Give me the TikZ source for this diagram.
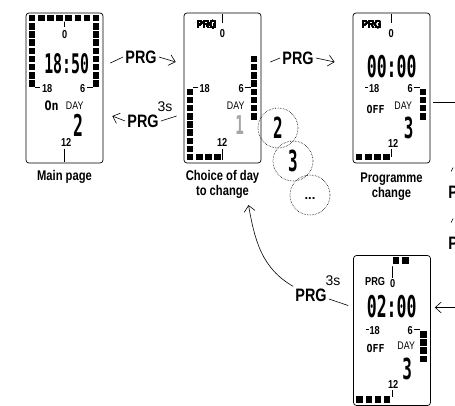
\documentclass[tikz,border=0pt]{standalone}
\usepackage{fontspec}
\setmainfont{Liberation Sans}
\newfontfamily\condfont{Liberation Sans}[FakeStretch=0.8]
\newfontfamily\lcdfont{DejaVu Sans Mono}[FakeStretch=0.55]
\newfontfamily\lcdword{DejaVu Sans Mono}[FakeStretch=0.9]
\usepackage{xcolor}
\usetikzlibrary{positioning, arrows.meta}

\definecolor{lcdgrey}{gray}{0.65}

% one square of the 24h ring, given by its centre
\newcommand{\lcdseg}[2]{\fill ({#1-3.25},{#2-3.25}) rectangle ++(6.5,6.5);}
\newcommand{\rowseg}[2]{\lcdseg{6.5+9.14*#1}{#2}}
\newcommand{\colseg}[2]{\lcdseg{#1}{-5.5-8.18*#2}}

\begin{document}
\begin{tikzpicture}[
        x=1pt, y=1pt, line width=0.6pt,
        >={Straight Barb[length=6pt,width=11pt]},
        screen/.style={draw, rounded corners=3pt, minimum width=77pt, minimum height=150pt, inner sep=0pt, line width=0.7pt},
        keyname/.style={font=\condfont\bfseries\fontsize{18}{18}\selectfont, inner sep=2pt},
        holdtime/.style={font=\fontsize{14}{14}\selectfont, inner sep=0pt},
        screenlbl/.style={font=\condfont\bfseries\fontsize{14}{15}\selectfont, align=center, inner sep=2pt},
        scrtxt/.style={font=\condfont\fontsize{11}{11}\selectfont, inner sep=0pt},
        scrnum/.style={font=\condfont\bfseries\fontsize{11.5}{11.5}\selectfont, inner sep=0pt},
        lcdnum/.style={font=\lcdfont\bfseries\fontsize{#1}{#1}\selectfont, inner sep=0pt},
        lcdtxt/.style={font=\lcdword\bfseries\fontsize{#1}{#1}\selectfont, inner sep=0pt},
        daybubble/.style={circle, draw, densely dotted, minimum size=40pt, inner sep=0pt},
        scaletick/.style={line width=1.1pt}
    ]

    \useasboundingbox (0,0) rectangle (455,-405);
    \clip (0,0) rectangle (455,-405);

    % screens
    \node[screen] (main) at (64.5,-88) {};
    \node[screen] (choice) at (222.5,-88) {};
    \node[screen] (prog) at (391.5,-88) {};
    \node[screen] (setday) at (392,-330.5) {};

    \node[screenlbl, below=5pt of main] (mainlbl) {Main page};
    \node[screenlbl, below=5pt of choice] (choicelbl) {Choice of day\\to change};
    \node[screenlbl, below=7pt of prog] (proglbl) {Programme\\change};

    % main page
    \begin{scope}[shift={(main.north west)}]
        \foreach \k in {0,...,7} \rowseg{\k}{-5.5}
        \foreach \j in {1,...,8} {\colseg{6.5}{\j} \colseg{70.5}{\j}}
        \draw[scaletick] (39,-9) -- (39,-14);
        \node[scrnum] (m0) at (39,-21.5) {0};
        \node[lcdnum=27] (mtime) at (41,-51) {18:50};
        \draw[scaletick] (9.75,-75) -- (14,-75);
        \node[scrnum] (m18) at (21.5,-76) {18};
        \node[scrnum] (m6) at (57,-76) {6};
        \draw[scaletick] (61,-75) -- (67.25,-75);
        \node[lcdtxt=13] (mon) at (26,-93) {On};
        \node[scrtxt] (mday) at (49,-93.5) {DAY};
        \node[lcdnum=30] (mdig) at (52.5,-113) {2};
        \node[scrnum] (m12) at (40.5,-129.5) {12};
        \draw[scaletick] (39,-136) -- (39,-149);
    \end{scope}

    % choice of day
    \begin{scope}[shift={(choice.north west)}]
        \foreach \j in {5,...,12} \colseg{70.5}{\j}
        \foreach \j in {9,...,16} \colseg{6.5}{\j}
        \foreach \k in {0,...,3} \rowseg{\k}{-144.5}
        \node[scrnum] (cprg) at (23,-12) {PRG};
        \draw[scaletick] (38.7,-1) -- (38.7,-10);
        \node[scrnum] (c0) at (38.7,-20.5) {0};
        \draw[scaletick] (9.75,-75) -- (14,-75);
        \node[scrnum] (c18) at (21,-75.5) {18};
        \node[scrnum] (c6) at (57.5,-75.5) {6};
        \draw[scaletick] (61,-75) -- (67.25,-75);
        \node[scrtxt] (cday) at (52,-93.5) {DAY};
        \node[lcdnum=26, text=lcdgrey] (cdig) at (56,-112) {1};
        \node[scrnum] (c12) at (38.5,-130) {12};
        \draw[scaletick] (38.7,-136.5) -- (38.7,-147);
    \end{scope}

    % programme change
    \begin{scope}[shift={(prog.north west)}]
        \foreach \j in {9,...,12} \colseg{70.5}{\j}
        \foreach \k in {0,...,3} \rowseg{\k}{-144.5}
        \node[scrnum] (pprg) at (19,-12) {PRG};
        \draw[scaletick] (38.5,-1) -- (38.5,-10);
        \node[scrnum] (p0) at (38.5,-20.5) {0};
        \node[lcdnum=30] (ptime) at (39,-54) {00:00};
        \draw[scaletick] (12.5,-75) -- (15.5,-75);
        \node[scrnum] (p18) at (21.5,-76) {18};
        \node[scrnum] (p6) at (57.5,-76) {6};
        \draw[scaletick] (61,-75) -- (67.25,-75);
        \node[lcdtxt=11] (poff) at (23,-97) {OFF};
        \node[scrtxt] (pday) at (50.5,-93.5) {DAY};
        \node[lcdnum=29] (pdig) at (56,-115) {3};
        \node[scrnum] (p12) at (40.5,-130.5) {12};
        \draw[scaletick] (38.5,-136) -- (38.5,-144);
    \end{scope}

    % set time of the day
    \begin{scope}[shift={(setday.north west)}]
        \foreach \k in {4,5} \rowseg{\k}{-5.5}
        \foreach \j in {9,...,12} \colseg{70.5}{\j}
        \foreach \k in {0,...,3} \rowseg{\k}{-144.5}
        \draw[scaletick] (39.5,-11.5) -- (39.5,-22.5);
        \node[scrnum] (s0) at (39.5,-28.5) {0};
        \node[scrnum] (sprg) at (22,-26) {PRG};
        \node[lcdnum=30] (stime) at (38.5,-51.5) {02:00};
        \draw[scaletick] (12.5,-74.5) -- (15.5,-74.5);
        \node[scrnum] (s18) at (21.5,-75) {18};
        \node[scrnum] (s6) at (57,-75) {6};
        \draw[scaletick] (61,-74.5) -- (67.25,-74.5);
        \node[lcdtxt=11] (soff) at (22.5,-93.5) {OFF};
        \node[scrtxt] (sday) at (53,-91) {DAY};
        \node[lcdnum=29] (sdig) at (54,-114) {3};
        \node[scrnum] (s12) at (40,-129) {12};
        \draw[scaletick] (39.5,-135) -- (39.5,-141.5);
    \end{scope}

    % days to pick
    \node[daybubble, lcdnum=29] (bub2) at (278,-128) {2};
    \node[daybubble, lcdnum=29] (bub3) at (293,-161) {3};
    \node[daybubble, font=\bfseries\fontsize{13}{13}\selectfont] (bubmore) at (310,-195) {\vphantom{0}...};

    % key presses
    \node[keyname] (prgA) at (141,-57) {PRG};
    \node[keyname] (prgB) at (143,-121) {PRG};
    \node[holdtime] (holdB) at (165,-107) {3s};
    \node[keyname] (prgC) at (298,-58) {PRG};
    \node[keyname] (prgE) at (311,-295) {PRG};
    \node[holdtime] (holdE) at (333,-281) {3s};
    \node[keyname, anchor=west] (pD) at (446,-192) {P};
    \node[keyname, anchor=west] (pF) at (446,-243) {P};

    \coordinate (edgeA) at (462,-102);
    \coordinate (edgeB) at (462,-307.5);

    \draw ([shift={(7,25)}]main.east) -- (prgA.west);
    \draw[->] (prgA.east) -- ([shift={(-8,26)}]choice.west);

    \draw ([shift={(-7,-28)}]choice.west) -- (prgB.east);
    \draw[->] (prgB.west) -- ([shift={(9,-28)}]main.east);

    \draw ([shift={(9,26)}]choice.east) -- (prgC.west);
    \draw[->] (prgC.east) -- ([shift={(-18,26)}]prog.west);

    \draw ([shift={(3,-14)}]prog.east) -- (edgeA);
    \draw[->] (edgeB) -- ([shift={(4,23)}]setday.east);

    \draw ([shift={(-2,12)}]pD.north) -- ++(2,4);
    \draw ([shift={(-2,12)}]pF.north) -- ++(2,4);

    \draw ([yshift=-4]prgE.east) -- ([shift={(-5,25)}]setday.west);
    \draw[->] (prgE.north west) to[out=150, in=-80] ([shift={(26,-4)}]choicelbl.south);

\end{tikzpicture}
\end{document}
